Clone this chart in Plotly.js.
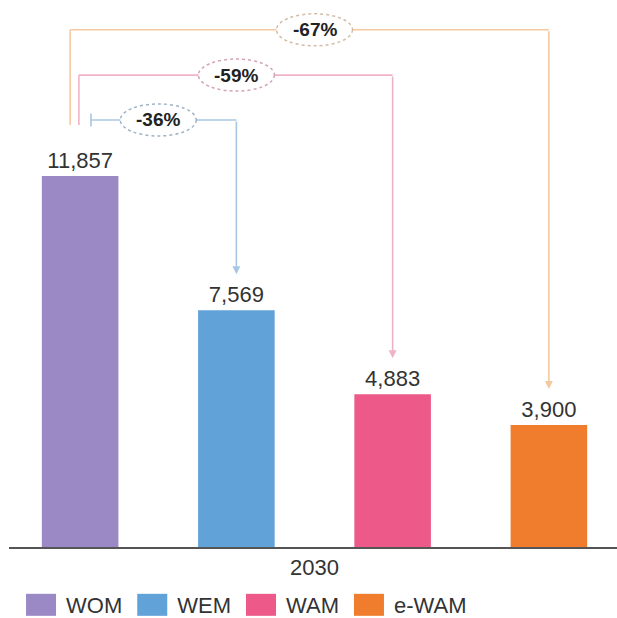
<!DOCTYPE html>
<html>
<head>
<meta charset="utf-8">
<script src="https://cdn.plot.ly/plotly-3.0.1.min.js"></script>
<style>
  html, body { margin: 0; padding: 0; background: #ffffff; }
  #chart { width: 617px; height: 618px; }
</style>
</head>
<body>
<div id="chart"></div>
<script>
// ---- data ----
const category = ["2030"];
const scenarios = ["WOM", "WEM", "WAM", "e-WAM"];
const values = [11857, 7569, 4883, 3900];
const barColors = ["#9a89c5", "#61a2d9", "#ed5a89", "#ef7d2d"];

// comparisons: from scenario 0 to scenario i
const compareTargets = [1, 2, 3];
const bracketColors = ["#a9c7e3", "#f0b3c6", "#f5c9a0"];
const ellipseColors = ["#9fb3c8", "#d6a3b4", "#d3bca6"];

// ---- geometry helpers (styling only) ----
const maxVal = Math.max(...values);
const nBars = scenarios.length;
const slot = 1 / nBars;                     // bargap 0 -> group spans one unit
const barX = i => -0.5 + slot * (i + 0.5);  // offset of each grouped bar
const levelFactor = [1.151, 1.272, 1.394];   // bracket heights (relative to max)
const leftOffsets = [0.0174, -0.002, -0.016];
const legBottom = maxVal * 1.1375;
const arrowGap = maxVal * 0.097;
const ellW = 0.0608, ellH = 512;
const labelFont = "Arial, 'Liberation Sans', sans-serif";

const traces = scenarios.map((name, i) => ({
  type: "bar",
  name: name,
  x: category,
  y: [values[i]],
  marker: { color: barColors[i] },
  text: [values[i].toLocaleString("en-US")],
  textposition: "outside",
  constraintext: "none",
  cliponaxis: false,
  textfont: { size: 22, color: "#333333", family: labelFont },
  hoverinfo: "skip"
}));

const shapes = [];
const ellipses = [];
const annotations = [];
compareTargets.forEach((t, k) => {
  const level = maxVal * levelFactor[k];
  const xl = barX(0) + leftOffsets[k];
  const xr = barX(t);
  const col = bracketColors[k];
  const ln = { color: col, width: 1.6 };
  if (k === 0) {
    shapes.push({ type: "line", xref: "x", yref: "y", x0: xl, x1: xl, y0: level - 210, y1: level + 210, line: ln });
  } else {
    shapes.push({ type: "line", xref: "x", yref: "y", x0: xl, x1: xl, y0: legBottom, y1: level, line: ln });
  }
  shapes.push({ type: "line", xref: "x", yref: "y", x0: xl, x1: xr, y0: level, y1: level, line: ln });
  annotations.push({
    x: xr, y: values[t] + arrowGap, xref: "x", yref: "y",
    ax: xr, ay: level, axref: "x", ayref: "y",
    text: "", showarrow: true, arrowhead: 2, arrowsize: 1, arrowwidth: 1.6,
    arrowcolor: col, standoff: 0, startstandoff: 0
  });
  const mid = (barX(0) + barX(t)) / 2;
  ellipses.push({
    type: "circle", xref: "x", yref: "y",
    x0: mid - ellW, x1: mid + ellW, y0: level - ellH, y1: level + ellH,
    fillcolor: "#ffffff", line: { color: ellipseColors[k], width: 1.5, dash: "dot" }
  });
  const pct = Math.round((values[t] / values[0] - 1) * 100);
  annotations.push({
    x: mid, y: level, xref: "x", yref: "y", showarrow: false,
    text: "<b>" + pct + "%</b>",
    font: { size: 19, color: "#222222", family: labelFont }
  });
});

const layout = {
  width: 617,
  height: 618,
  margin: { l: 9, r: 0, t: 10, b: 71 },
  paper_bgcolor: "#ffffff",
  plot_bgcolor: "#ffffff",
  barmode: "group",
  bargap: 0,
  bargroupgap: 0.51,
  showlegend: true,
  legend: {
    orientation: "h",
    xref: "container", yref: "container",
    x: 0.026, y: 0.021, xanchor: "left", yanchor: "middle",
    itemwidth: 40,
    font: { size: 22, color: "#333333", family: labelFont },
    traceorder: "normal"
  },
  xaxis: {
    type: "category",
    range: [-0.4888, 0.484],
    showline: true, linecolor: "#555555", linewidth: 1.5,
    ticks: "", showgrid: false, zeroline: false,
    tickfont: { size: 22, color: "#333333", family: labelFont },
    fixedrange: true
  },
  yaxis: {
    range: [0, maxVal * 1.4474],
    showticklabels: false, showgrid: false, zeroline: false, showline: false,
    fixedrange: true
  },
  shapes: shapes.concat(ellipses),
  annotations: annotations,
  font: { family: labelFont }
};

Plotly.newPlot("chart", traces, layout, { staticPlot: true, displayModeBar: false }).then(gd => {
  // enlarge legend swatches to match the reference's wide blocks
  gd.querySelectorAll(".legend path.legendbar, .legend path.legendundefined").forEach(p => {
    p.setAttribute("d", "M15,11H-15V-11H15Z");
  });
});
</script>
</body>
</html>
